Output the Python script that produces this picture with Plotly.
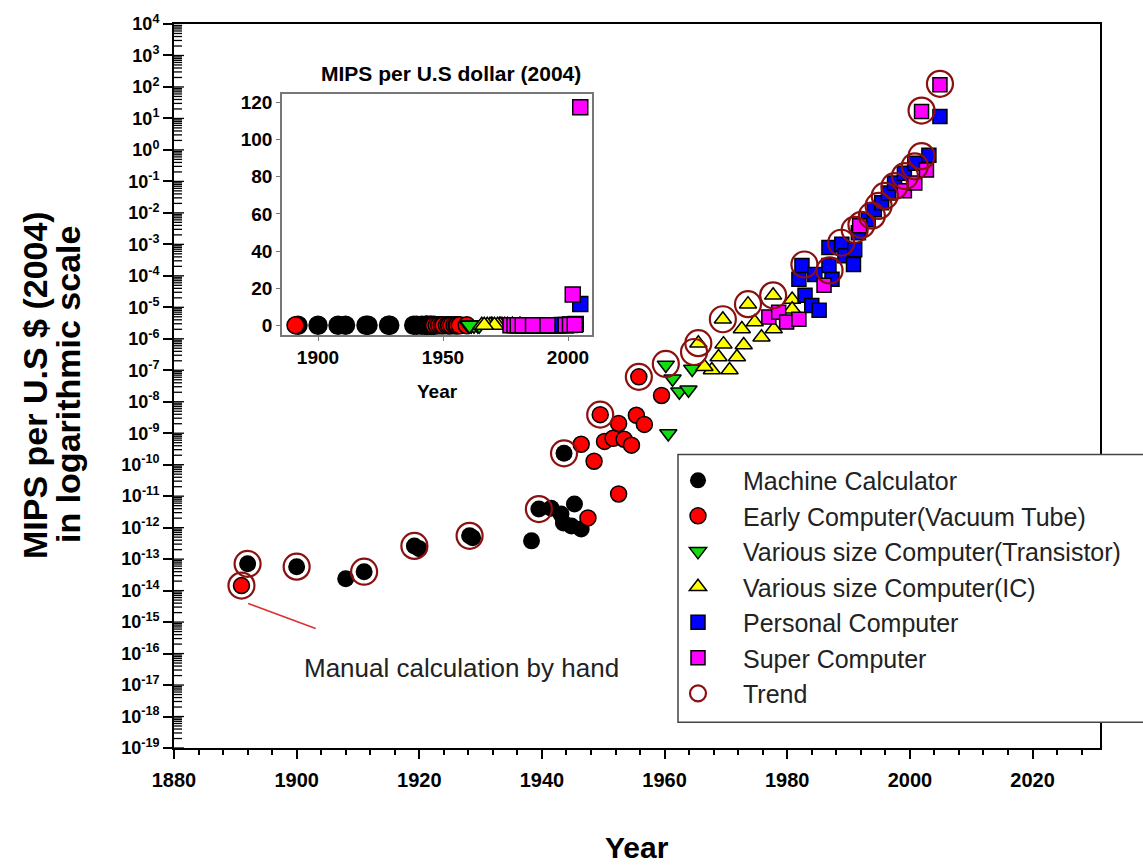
import math
import numpy as np
import plotly.graph_objects as go

# ---------------- data (year, log10 MIPS per US$) ----------------
calc_year = [1892, 1900, 1908, 1911, 1919.2, 1920, 1928.2, 1928.7, 1938.3, 1939.5,
             1941.5, 1943.1, 1945.3, 1943.5, 1944.8, 1946.4, 1943.6]
calc_log = [-13.15, -13.24, -13.62, -13.40, -12.58, -12.67, -12.26, -12.32, -12.42, -11.41,
            -11.38, -11.57, -11.25, -11.85, -11.95, -12.04, -9.64]

tube_year = [1891, 1946.4, 1947.5, 1948.5, 1949.5, 1950.2, 1951.6, 1952.5, 1952.5, 1953.4,
             1954.6, 1955.4, 1955.8, 1956.7, 1959.5]
tube_log = [-13.84, -9.35, -11.69, -9.89, -8.41, -9.26, -9.16, -8.69, -10.93, -9.19,
            -9.38, -8.43, -7.21, -8.72, -7.80]

trans_year = [1960.2, 1961.3, 1962.4, 1963.9, 1964.5, 1960.6]
trans_log = [-6.83, -7.27, -7.68, -7.62, -6.96, -9.01]

ic_year = [1965.5, 1969.5, 1973.6, 1977.7, 1980.8, 1980.8, 1974.7, 1972.6, 1975.8, 1969.6,
           1972.9, 1968.8, 1971.8, 1967.7, 1970.6, 1977.8, 1966.5]
ic_log = [-6.14, -5.38, -4.90, -4.62, -4.75, -5.06, -5.47, -5.69, -5.95, -6.17,
          -6.20, -6.58, -6.58, -6.99, -6.99, -5.69, -6.89]

pc_year = [1981.9, 1982.4, 1982.9, 1984.0, 1985.2, 1984.5, 1986.8, 1987.3, 1986.8, 1988.9,
           1989.4, 1991.0, 1990.8, 1991.6, 1993.2, 1994.2, 1995.4, 1996.5, 1997.5, 1999.1,
           2000.8, 2003.1, 2004.9]
pc_log = [-4.11, -3.67, -4.62, -4.94, -5.09, -3.96, -3.10, -4.11, -3.67, -3.00,
          -3.36, -3.17, -3.64, -2.63, -2.22, -1.90, -1.68, -1.37, -1.05, -0.74,
          -0.42, -0.17, 1.06]

super_year = [1977.0, 1978.6, 1979.9, 1981.9, 1986.0, 1991.8, 1999.1, 2000.8, 2002.7, 2001.9, 2004.9]
super_log = [-5.31, -5.16, -5.47, -5.38, -4.30, -2.41, -1.30, -1.05, -0.64, 1.22, 2.07]

trend_year = [1891, 1892, 1900, 1911, 1919.2, 1928.2, 1939.5, 1943.6, 1949.5, 1955.8,
              1960.2, 1964.8, 1965.5, 1969.5, 1973.6, 1977.7, 1982.8, 1986.9, 1988.8, 1991.0,
              1992.1, 1993.8, 1994.9, 1995.9, 1997.5, 1999.2, 2000.8, 2001.9, 2001.9, 2004.9]
trend_log = [-13.84, -13.15, -13.24, -13.40, -12.58, -12.26, -11.41, -9.64, -8.41, -7.21,
             -6.80, -6.42, -6.14, -5.38, -4.90, -4.62, -3.64, -3.83, -2.95, -2.54,
             -2.38, -2.09, -1.78, -1.46, -1.15, -0.83, -0.52, -0.20, 1.25, 2.10]

manual_line_year = [1892.1, 1903.1]
manual_line_log = [-14.41, -15.20]

x_range = [1880, 2031]
y_log_range = [-19, 4]
x_ticks = [1880, 1900, 1920, 1940, 1960, 1980, 2000, 2020]
y_exponents = list(range(-19, 5))
inset_x_ticks = [1900, 1950, 2000]
inset_y_ticks = [0, 20, 40, 60, 80, 100, 120]

FONT = "Liberation Sans, Arial, sans-serif"

series = [
    ("Machine Calculator", calc_year, calc_log, "circle", "#000000", 17, 0),
    ("Early Computer(Vacuum Tube)", tube_year, tube_log, "circle", "#ff0000", 16, 1.5),
    ("Various size Computer(Transistor)", trans_year, trans_log, "triangle-down", "#11dd11", 15, 1.5),
    ("Various size Computer(IC)", ic_year, ic_log, "triangle-up", "#ffff00", 15, 1.5),
    ("Personal Computer", pc_year, pc_log, "square", "#0000ff", 14, 1.5),
    ("Super Computer", super_year, super_log, "square", "#ff00ff", 14, 1.5),
]

W, H = 1143, 867
L, R, T, B = 174, 43, 20, 119
pw, ph = W - L - R, H - T - B

fig = go.Figure()

for i, (name, xs, ls, sym, col, size, lw) in enumerate(series):
    fig.add_trace(go.Scatter(
        x=xs, y=np.power(10.0, ls), mode="markers", name=name,
        legendgroup=f"g{i}",
        marker=dict(symbol=sym, color=col, size=size, line=dict(color="black", width=lw)),
        xaxis="x", yaxis="y"))

fig.add_trace(go.Scatter(
    x=trend_year, y=np.power(10.0, trend_log), mode="markers", name="Trend",
    legendgroup="g6",
    marker=dict(symbol="circle-open", color="#8b1010", size=26, line=dict(color="#8b1010", width=2.2)),
    xaxis="x", yaxis="y"))

fig.add_trace(go.Scatter(
    x=manual_line_year, y=np.power(10.0, manual_line_log), mode="lines",
    line=dict(color="#e03030", width=1.6), showlegend=False, hoverinfo="skip",
    xaxis="x", yaxis="y"))

# inset (linear scale)
for name, xs, ls, sym, col, size, lw in series:
    fig.add_trace(go.Scatter(
        x=xs, y=np.power(10.0, ls), mode="markers", name=name, showlegend=False,
        marker=dict(symbol=sym, color=col, size=size + 1, line=dict(color="black", width=max(lw, 1.5))),
        xaxis="x2", yaxis="y2"))


def px(xp):
    return (xp - L) / pw


def py(yp):
    return (H - B - yp) / ph


def ann(text, x, y, size, bold=True, color="black", angle=0):
    f = dict(family=FONT, size=size, color=color)
    if bold:
        f["weight"] = "bold"
    return dict(text=text, xref="paper", yref="paper", x=px(x), y=py(y),
                xanchor="center", yanchor="middle", textangle=angle,
                showarrow=False, font=f)


# sub-decade tick marks on the inside of the log axis, placed in paper units
span = y_log_range[1] - y_log_range[0]
tick_shapes = []
for e in y_exponents[:-1]:
    for k in range(1, 10):
        yp = (e + math.log10(k) - y_log_range[0]) / span
        tick_shapes.append(dict(type="line", xref="paper", yref="paper",
                                x0=0, x1=(10 if k == 1 else 8) / pw, y0=yp, y1=yp,
                                line=dict(color="black", width=1.3), layer="above"))

legend_box = dict(type="rect", xref="paper", yref="paper",
                  x0=px(678), x1=px(1170), y0=py(722), y1=py(453),
                  line=dict(color="#444444", width=1.5), fillcolor="white", layer="above")

major_y = [10.0 ** e for e in y_exponents]

fig.update_layout(
    width=W, height=H,
    margin=dict(l=L, r=R, t=T, b=B),
    paper_bgcolor="white", plot_bgcolor="white",
    font=dict(family=FONT, color="black"),
    showlegend=True,
    legend=dict(x=px(653), y=py(456), xanchor="left", yanchor="top",
                bgcolor="rgba(0,0,0,0)", borderwidth=0,
                font=dict(family=FONT, size=25, color="#222222"),
                tracegroupgap=0, itemwidth=80),
    xaxis=dict(range=x_range, tickvals=x_ticks, ticks="outside", ticklen=9, tickwidth=2,
               tickcolor="black", showline=True, linecolor="black", linewidth=2, mirror=True,
               showgrid=False, zeroline=False,
               tickfont=dict(family=FONT, size=20, color="black", weight="bold"),
               ticklabelstandoff=4,
               minor=dict(dtick=4, ticks="outside", ticklen=5, tickwidth=1.5, tickcolor="black")),
    yaxis=dict(type="log", range=y_log_range,
               tickvals=major_y, ticktext=[f"10<sup>{e}</sup>" for e in y_exponents],
               ticks="outside", ticklen=9, tickwidth=2, tickcolor="black",
               showline=True, linecolor="black", linewidth=2, mirror=True,
               showgrid=False, zeroline=False,
               tickfont=dict(family=FONT, size=18, color="black", weight="bold")),
    xaxis2=dict(domain=[px(282), px(592)], anchor="y2", range=[1885.6, 2009.6],
                tickvals=inset_x_ticks, ticks="outside", ticklen=4, tickcolor="#777777",
                showline=True, linecolor="#777777", linewidth=1.5, mirror=True,
                showgrid=False, zeroline=False,
                tickfont=dict(family=FONT, size=19, color="black", weight="bold")),
    yaxis2=dict(domain=[py(333), py(90)], anchor="x2", range=[-5.4, 124.8],
                tickvals=inset_y_ticks, ticks="outside", ticklen=4, tickcolor="#777777",
                showline=True, linecolor="#777777", linewidth=1.5, mirror=True,
                showgrid=False, zeroline=False,
                tickfont=dict(family=FONT, size=19, color="black", weight="bold")),
    shapes=tick_shapes + [legend_box],
    annotations=[
        ann("MIPS per U.S $ (2004)", 35, 383, 34, angle=-90),
        ann("in logarithmic scale", 68, 383, 34, angle=-90),
        ann("Year", 637, 848, 30),
        ann("MIPS per U.S dollar (2004)", 451, 70, 21),
        ann("Year", 437, 390, 19),
        ann("Manual calculation by hand", 461, 668, 26, bold=False, color="#222222"),
    ],
)

fig.write_html("out.html")
